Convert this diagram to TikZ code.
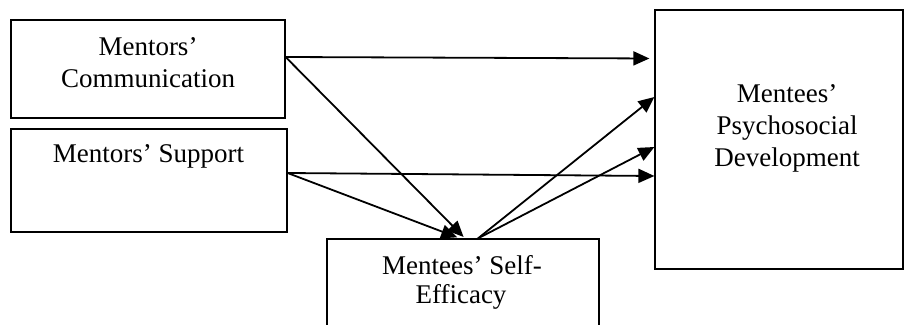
\documentclass[tikz,border=0pt]{standalone}
\usepackage{fontspec}
\setmainfont{Liberation Serif}
\usetikzlibrary{arrows.meta}
\begin{document}
\begin{tikzpicture}[x=1pt,y=-1pt,
  box/.style={draw,line width=1.2pt,inner sep=0pt,rectangle},
  txt/.style={anchor=base,inner sep=0pt,font=\fontsize{27}{32}\selectfont},
  arr/.style={line width=1.8pt,-{Triangle[length=16pt,width=14pt]}}]
\useasboundingbox (0,0) rectangle (905,324);
\node[box,minimum width=274pt,minimum height=98pt] (A) at (148,69) {};
\node[box,minimum width=276pt,minimum height=103pt] (B) at (149,180.5) {};
\node[box,minimum width=272pt,minimum height=102pt] (C) at (463,290) {};
\node[box,minimum width=248pt,minimum height=259pt] (D) at (779,139.5) {};
\node[txt] (A1) at (148,55) {Mentors’};
\node[txt] (A2) at (148,87) {Communication};
\node[txt] (B1) at (148.5,162) {Mentors’ Support};
\node[txt] (C1) at (462,274) {Mentees’ Self-};
\node[txt] (C2) at (461,303) {Efficacy};
\node[txt] (D1) at (787,102) {Mentees’};
\node[txt] (D2) at (787,134) {Psychosocial};
\node[txt] (D3) at (787,166) {Development};
\draw[arr,shorten >=5pt] ([yshift=12pt]A.east) -- ([yshift=81pt]D.west);
\draw[arr,shorten >=2pt] ([yshift=12pt]A.east) -- ([xshift=2pt]C.north);
\draw[arr] ([yshift=7.5pt]B.east) -- ([yshift=-36.5pt]D.west);
\draw[arr,shorten >=3pt] ([yshift=7.5pt]B.east) -- ([xshift=-3pt]C.north);
\draw[arr] ([xshift=15pt]C.north) -- ([yshift=42.5pt]D.west);
\draw[arr] ([xshift=15pt]C.north) -- ([yshift=-7.5pt]D.west);
\end{tikzpicture}
\end{document}
